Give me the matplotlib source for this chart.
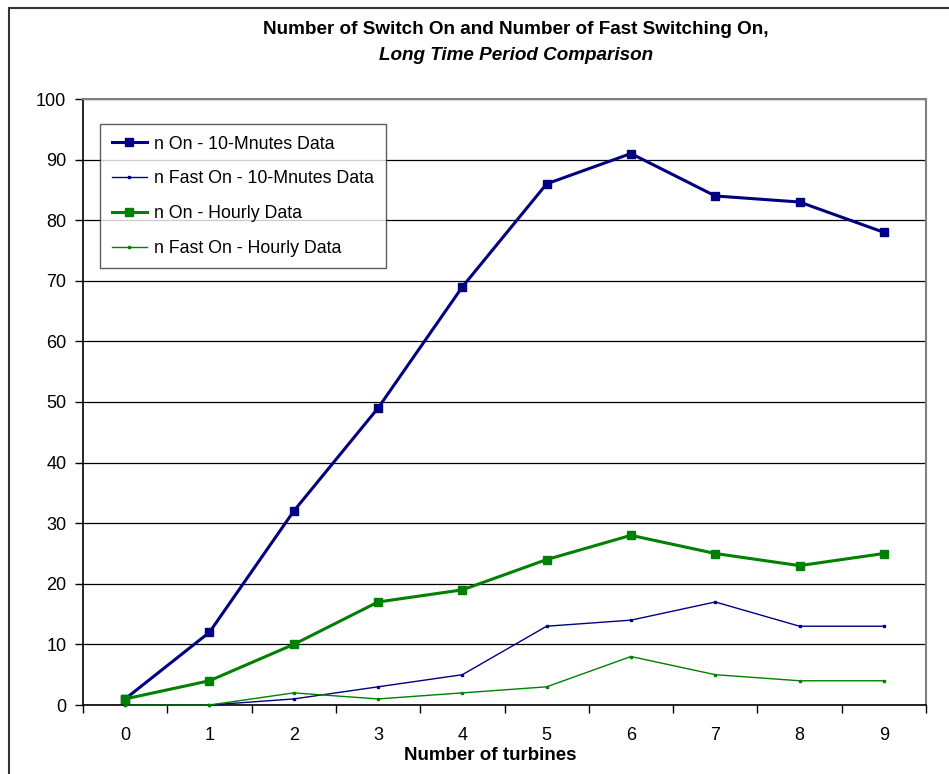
import numpy as np
import matplotlib
matplotlib.use("Agg")
from matplotlib import pyplot as plt
from matplotlib.patches import Rectangle

plt.rcParams['font.family'] = ['Liberation Sans', 'DejaVu Sans']

turbines = [0, 1, 2, 3, 4, 5, 6, 7, 8, 9]
on_10min = [1, 12, 32, 49, 69, 86, 91, 84, 83, 78]
fast_10min = [0, 0, 1, 3, 5, 13, 14, 17, 13, 13]
on_hourly = [1, 4, 10, 17, 19, 24, 28, 25, 23, 25]
fast_hourly = [0, 0, 2, 1, 2, 3, 8, 5, 4, 4]

labels = ['n On - 10-Mnutes Data', 'n Fast On - 10-Mnutes Data',
          'n On - Hourly Data', 'n Fast On - Hourly Data']

navy = '#000080'
green = '#008000'

fig = plt.figure(figsize=(9.49, 7.74), dpi=100)
W, H = 949, 774

# outer chart frame (only left/top visible in the reference)
fig.patches.append(Rectangle((9 / W, -0.2), 1.2, 1.2 - 8 / H, transform=fig.transFigure,
                             fill=False, edgecolor='#333333', linewidth=1.5))

ax = fig.add_axes([83 / W, 1 - 705 / H, (926 - 83) / W, (705 - 99) / H])

x = np.arange(len(turbines))
ax.plot(x, on_10min, color=navy, lw=2.2, marker='s', ms=6, label=labels[0], clip_on=False, zorder=5)
ax.plot(x, fast_10min, color=navy, lw=1.0, marker='s', ms=1.8, label=labels[1], clip_on=False, zorder=4)
ax.plot(x, on_hourly, color=green, lw=2.2, marker='s', ms=6, label=labels[2], clip_on=False, zorder=5)
ax.plot(x, fast_hourly, color=green, lw=1.0, marker='s', ms=1.8, label=labels[3], clip_on=False, zorder=4)

ax.set_xlim(-0.5, 9.5)
ax.set_ylim(0, 100)
ax.set_yticks(np.arange(0, 101, 10))
ax.set_xticks(x)
ax.set_xticklabels([str(t) for t in turbines], fontsize=13)
ax.set_xticks(np.arange(-0.5, 10, 1), minor=True)
ax.tick_params(axis='x', which='major', length=0, pad=16)
ax.tick_params(axis='x', which='minor', length=6, width=1, direction='out')
ax.tick_params(axis='y', length=6, width=1, direction='out', labelsize=13, pad=6)
ax.grid(axis='y', color='black', lw=0.9)
ax.set_axisbelow(True)

for s in ['top', 'right']:
    ax.spines[s].set_color('#808080')
    ax.spines[s].set_linewidth(1.5)
for s in ['left', 'bottom']:
    ax.spines[s].set_color('black')
    ax.spines[s].set_linewidth(1.2)

ax.set_xlabel('Number of turbines', fontsize=13.5, fontweight='bold', labelpad=0)
ax.xaxis.set_label_coords(0.483, -0.069)

fig.text(516 / W, 1 - 30 / H, 'Number of Switch On and Number of Fast Switching On,',
         ha='center', va='center', fontsize=13.6, fontweight='bold')
fig.text(516 / W, 1 - 56 / H, 'Long Time Period Comparison',
         ha='center', va='center', fontsize=13.6, fontweight='bold', style='italic')

leg = ax.legend(loc='upper left', bbox_to_anchor=((100 - 83) / (926 - 83), 1 - (124 - 99) / (705 - 99)),
                fontsize=12.8, frameon=True, fancybox=False, edgecolor='#333333',
                handlelength=2.0, handletextpad=0.4, labelspacing=1.0, borderpad=0.65,
                borderaxespad=0)
leg.get_frame().set_linewidth(1.0)

fig.savefig('out.png', dpi=100)
